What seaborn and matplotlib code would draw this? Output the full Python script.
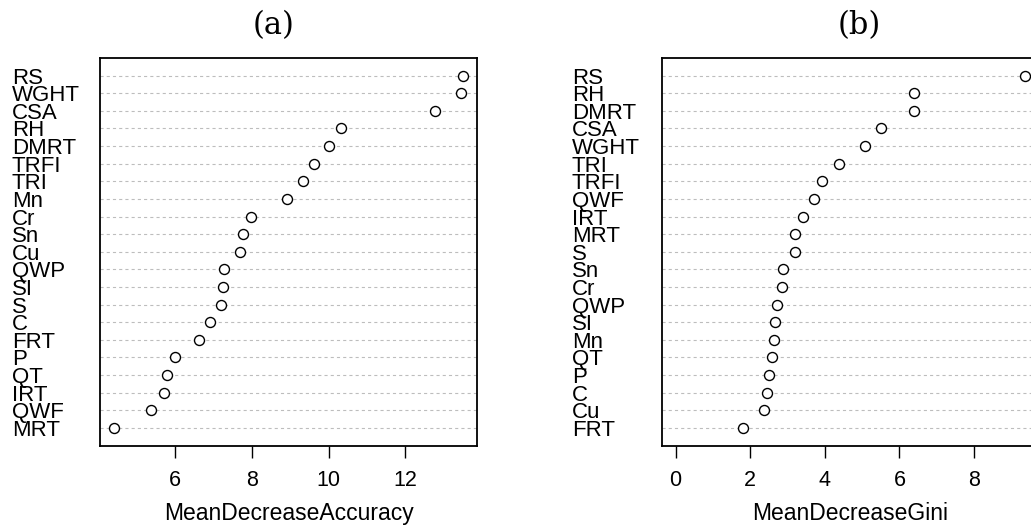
import matplotlib
matplotlib.use("Agg")
import matplotlib.pyplot as plt
import seaborn as sns
import pandas as pd

# Variable importance from a random forest: permutation accuracy and Gini
acc_vars = ["RS", "WGHT", "CSA", "RH", "DMRT", "TRFI", "TRI", "Mn", "Cr", "Sn", "Cu",
            "QWP", "SI", "S", "C", "FRT", "P", "QT", "IRT", "QWF", "MRT"]
acc_vals = [13.51, 13.45, 12.77, 10.31, 10.02, 9.61, 9.32, 8.91, 7.99, 7.78, 7.70,
            7.28, 7.25, 7.19, 6.91, 6.63, 5.99, 5.78, 5.70, 5.37, 4.41]

gini_vars = ["RS", "RH", "DMRT", "CSA", "WGHT", "TRI", "TRFI", "QWF", "IRT", "MRT", "S",
             "Sn", "Cr", "QWP", "SI", "Mn", "QT", "P", "C", "Cu", "FRT"]
gini_vals = [9.36, 6.40, 6.40, 5.50, 5.08, 4.39, 3.92, 3.70, 3.41, 3.19, 3.19,
             2.89, 2.85, 2.72, 2.67, 2.64, 2.59, 2.50, 2.46, 2.38, 1.81]

acc_ticks = [6, 8, 10, 12]
gini_ticks = [0, 2, 4, 6, 8]

sns.set_theme(style="white")
plt.rcParams["font.family"] = ["Liberation Sans", "DejaVu Sans"]
plt.rcParams.update({
    "text.color": "black",
    "axes.labelcolor": "black",
    "xtick.color": "black",
    "ytick.color": "black",
})

W, H = 1031, 527
fig = plt.figure(figsize=(W / 100, H / 100), dpi=100)
fig.patch.set_facecolor("white")

ax_a = fig.add_axes([100 / W, 1 - 445.5 / H, 377.4 / W, 387.5 / H])
ax_b = fig.add_axes([661.7 / W, 1 - 445.5 / H, 377.0 / W, 387.5 / H])


def dot_panel(ax, names, vals, xlo, xhi, ticks, xlabel, label_px):
    df = pd.DataFrame({"var": names, "value": vals})
    sns.stripplot(data=df, x="value", y="var", order=names, jitter=False, ax=ax,
                  color="white", edgecolor="black", linewidth=1.0, size=7.2, zorder=3)
    n = len(names)
    ax.set_ylim(n, -1)
    ax.set_xlim(xlo, xhi)
    ax.set_xticks(ticks)
    ax.set_xticklabels([str(t) for t in ticks], fontsize=15.5)
    ax.set_xlabel(xlabel, fontsize=16.5, labelpad=8)
    ax.set_ylabel("")
    ax.yaxis.grid(True, linestyle=(0, (2.8, 2.8)), color="#bdbdbd", linewidth=0.8)
    ax.xaxis.grid(False)
    ax.set_axisbelow(True)
    ax.tick_params(axis="x", direction="out", length=8.6, width=1.0, color="black",
                   pad=9, bottom=True)
    ax.tick_params(axis="y", length=0, pad=label_px * 0.72, labelsize=16)
    for lab in ax.get_yticklabels():
        lab.set_horizontalalignment("left")
    for sp in ax.spines.values():
        sp.set_visible(True)
        sp.set_color("black")
        sp.set_linewidth(1.3)


# 4% range extension on each side, as in a classic dot chart
a_rng = max(acc_vals) - min(acc_vals)
dot_panel(ax_a, acc_vars, acc_vals,
          min(acc_vals) - 0.04 * a_rng, max(acc_vals) + 0.04 * a_rng,
          acc_ticks, "MeanDecreaseAccuracy", 88.3)

g_max = max(gini_vals)
dot_panel(ax_b, gini_vars, gini_vals,
          -0.04 * g_max, 1.04 * g_max,
          gini_ticks, "MeanDecreaseGini", 90.0)

fig.text(274 / W, 1 - 26 / H, "(a)", ha="center", va="center",
         fontsize=22, family="DejaVu Serif", color="black")
fig.text(859 / W, 1 - 26 / H, "(b)", ha="center", va="center",
         fontsize=22, family="DejaVu Serif", color="black")

fig.savefig("out.png", dpi=100, facecolor="white")
